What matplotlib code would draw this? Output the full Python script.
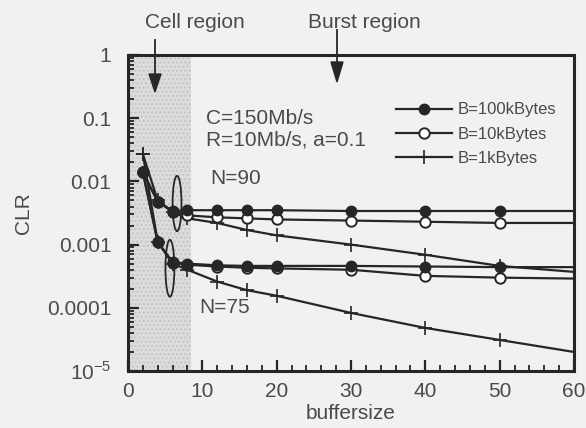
import numpy as np
import matplotlib.pyplot as plt
from matplotlib.patches import Ellipse

plt.rcParams['font.family'] = ['Liberation Sans', 'DejaVu Sans']

# buffer sizes where the curves were evaluated
x = [2, 4, 6, 8, 12, 16, 20, 30, 40, 50, 60]

# N=90
b100_n90 = [0.014, 0.0048, 0.0034, 0.0035, 0.0035, 0.0035, 0.0035, 0.0034, 0.0034, 0.0034, 0.0034]
b10_n90 = [0.014, 0.0048, 0.0033, 0.0029, 0.0027, 0.0026, 0.0025, 0.0024, 0.0023, 0.0022, 0.0022]
b1_n90 = [0.027, 0.0050, 0.0033, 0.0026, 0.0022, 0.0017, 0.0014, 0.0010, 0.00069, 0.00046, 0.00037]

# N=75
b100_n75 = [0.014, 0.0011, 0.00053, 0.00050, 0.00047, 0.00046, 0.00046, 0.00046, 0.00045, 0.00044, 0.00044]
b10_n75 = [0.014, 0.0011, 0.00052, 0.00048, 0.00045, 0.00043, 0.00042, 0.00040, 0.00032, 0.00030, 0.00029]
b1_n75 = [0.027, 0.0011, 0.00050, 0.00040, 0.00026, 0.00019, 0.000155, 0.000083, 0.000048, 0.000031, 0.00002]

yticks = [1, 0.1, 0.01, 0.001, 0.0001, 1e-5]
ylabels = ['1', '0.1', '0.01', '0.001', '0.0001', r'10$^{\mathregular{-5}}$']

bg = '#f1f1ef'
ink = '#262626'
txt = '#4a4a4a'

fig = plt.figure(figsize=(5.86, 4.28), dpi=100, facecolor=bg)
ax = fig.add_axes([0.2184, 0.1332, 0.7611, 0.7383])
ax.set_facecolor(bg)

ax.axvspan(0, 8.5, facecolor='#dcdcdc', edgecolor='#c4c4c4', hatch='....', lw=0, zorder=0)

mk = list(range(len(x) - 1))
for y in (b100_n90, b100_n75):
    l100, = ax.plot(x, y, color=ink, lw=1.6, marker='o', ms=7.5, mfc=ink, mec=ink, markevery=mk, zorder=4)
for y in (b10_n90, b10_n75):
    l10, = ax.plot(x, y, color=ink, lw=1.6, marker='o', ms=7.5, mfc='white', mec=ink, mew=1.4, markevery=mk, zorder=3)
for y in (b1_n90, b1_n75):
    l1, = ax.plot(x, y, color=ink, lw=1.6, marker='+', ms=10, mew=1.2, markevery=mk, zorder=2)

ax.set_yscale('log')
ax.set_xlim(0, 60)
ax.set_ylim(1e-5, 1)
ax.set_yticks(yticks)
ax.set_yticklabels(ylabels)
ax.set_xticks(range(0, 61, 10))
ax.set_xticks(range(0, 61, 2), minor=True)
ax.tick_params(which='major', direction='in', length=8, width=1.6, color=ink, labelsize=15, labelcolor=txt, pad=8)
ax.tick_params(axis='y', which='major', pad=12)
ax.tick_params(which='minor', direction='in', length=4.5, width=1.3, color=ink)
ax.tick_params(axis='y', which='minor', labelleft=False)
for s in ax.spines.values():
    s.set_linewidth(2.2)
    s.set_color(ink)

ax.set_xlabel('buffersize', fontsize=15, color=txt, labelpad=2)
ax.set_ylabel('CLR', fontsize=15, color=txt, labelpad=10)

ax.text(0.175, 0.80, 'C=150Mb/s', transform=ax.transAxes, fontsize=15, color=txt, va='center')
ax.text(0.175, 0.73, 'R=10Mb/s, a=0.1', transform=ax.transAxes, fontsize=15, color=txt, va='center')
ax.text(0.185, 0.61, 'N=90', transform=ax.transAxes, fontsize=15, color=txt, va='center')
ax.text(0.16, 0.20, 'N=75', transform=ax.transAxes, fontsize=15, color=txt, va='center')

ax.add_patch(Ellipse((0.110, 0.530), 0.020, 0.175, transform=ax.transAxes, fill=False, ec=ink, lw=1.3, zorder=5))
ax.add_patch(Ellipse((0.094, 0.325), 0.020, 0.180, transform=ax.transAxes, fill=False, ec=ink, lw=1.3, zorder=5))

leg = ax.legend([l100, l10, l1], ['B=100kBytes', 'B=10kBytes', 'B=1kBytes'],
                loc='upper left', bbox_to_anchor=(0.60, 0.85), frameon=False,
                borderpad=0, borderaxespad=0,
                fontsize=12, handlelength=3.4, handletextpad=0.3, labelspacing=0.55)
for t in leg.get_texts():
    t.set_color(txt)

fig.text(145 / 586, 1 - 22 / 428, 'Cell region', fontsize=15, color=txt, va='center')
fig.text(308 / 586, 1 - 22 / 428, 'Burst region', fontsize=15, color=txt, va='center')
fig.add_artist(plt.Line2D([155 / 586, 155 / 586], [1 - 40 / 428, 1 - 78 / 428], color=ink, lw=1.3))
fig.patches.append(plt.Polygon([[149 / 586, 1 - 74 / 428], [161 / 586, 1 - 74 / 428], [155 / 586, 1 - 92 / 428]],
                               closed=True, color=ink, transform=fig.transFigure, figure=fig))
fig.add_artist(plt.Line2D([337 / 586, 337 / 586], [1 - 30 / 428, 1 - 64 / 428], color=ink, lw=1.3))
fig.patches.append(plt.Polygon([[331 / 586, 1 - 62 / 428], [343 / 586, 1 - 62 / 428], [337 / 586, 1 - 82 / 428]],
                               closed=True, color=ink, transform=fig.transFigure, figure=fig))

fig.savefig('out.png', dpi=100, facecolor=bg)
